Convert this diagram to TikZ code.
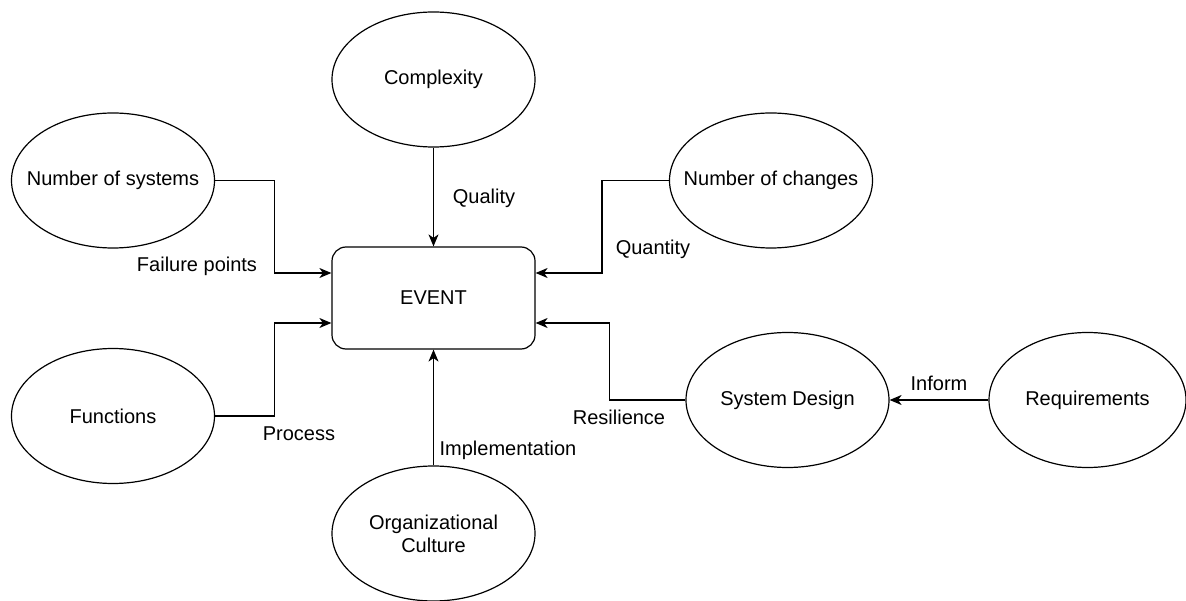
\documentclass[tikz,border=0pt]{standalone}
\usepackage{fontspec}
\setmainfont{Liberation Sans}
\usetikzlibrary{arrows.meta,positioning,shapes.geometric}
\tikzset{
  >={Stealth[length=12pt,width=10pt,inset=3.5pt]},
  factor/.style={ellipse,draw,line width=1.2pt,minimum width=203pt,minimum height=135pt,inner sep=0pt},
  eventbox/.style={draw,rounded corners=14pt,line width=1.2pt,minimum width=203pt,minimum height=102pt,inner sep=0pt},
  flow/.style={->,line width=1.2pt},
  tag/.style={inner sep=0pt},
}

\begin{document}
\begin{tikzpicture}[x=1pt,y=-1pt,font=\fontsize{20}{23}\selectfont]
  \useasboundingbox (0,0) rectangle (1186,601);

  % central event and the factors round it
  \node[eventbox] (event) at (433.5,298) {EVENT};
  \node[factor,label=center:Complexity] (cplx) at (433.5,79.5) {};
  \node[factor,label=center:Number of systems] (nsys) at (113,180.5) {};
  \node[factor,label=center:Number of changes] (nchg) at (771,180.5) {};
  \node[factor,label=center:Functions] (func) at (113,416) {};
  \node[factor,label={[align=center]center:Organizational\\Culture}] (org) at (433.5,533.5) {};
  \node[factor,label=center:System Design] (sysd) at (787.5,400) {};
  \node[factor,minimum width=197pt,label=center:Requirements] (req) at (1087.5,400) {};

  % connectors
  \draw[flow] (cplx.south) -- (event.north);
  \draw[flow] (org.north) -- (event.south);
  \draw[flow] (nsys.east) -- ++(59,0) |- ([yshift=25pt]event.west);
  \draw[flow] (func.east) -- ++(59,0) |- ([yshift=-25pt]event.west);
  \draw[flow] (nchg.west) -- ++(-67,0) |- ([yshift=25pt]event.east);
  \draw[flow] (sysd.west) -- ++(-76,0) |- ([yshift=-25pt]event.east);
  \draw[flow] (req.west) -- (sysd.east);

  % connector labels
  \node[tag] (lblfail) at (197,266) {Failure points};
  \node[tag] (lblqual) at (484,198) {Quality};
  \node[tag] (lblquan) at (653,249) {Quantity};
  \node[tag] (lblproc) at (299,434) {Process};
  \node[tag] (lblimpl) at (508,450) {Implementation};
  \node[tag] (lblres) at (619,417) {Resilience};
  \node[tag] (lblinf) at (939,383) {Inform};
\end{tikzpicture}
\end{document}
